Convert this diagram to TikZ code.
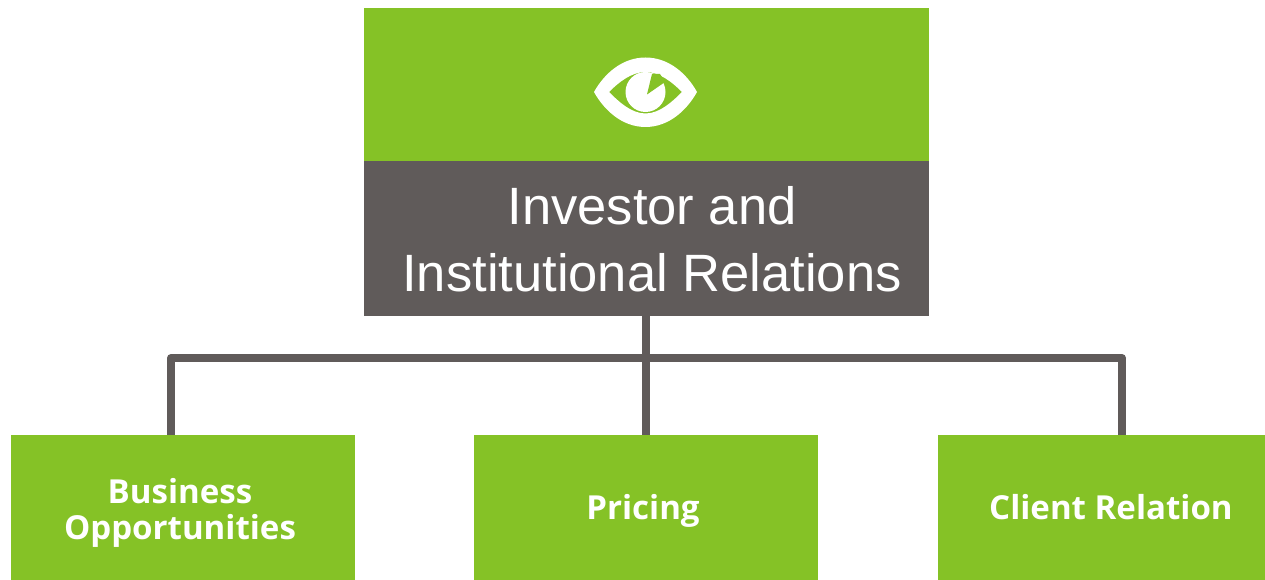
\documentclass[tikz,border=0pt]{standalone}
\usepackage{fontspec}
\setmainfont{Liberation Sans}
\newfontfamily\boxfont{Open Sans}[Scale=1]
\definecolor{leaf}{HTML}{85C226}
\definecolor{slate}{HTML}{605B5A}
\tikzset{
  px/.style={x=0.75pt,y=-0.75pt},
  blockbox/.style={fill=#1,draw=none,inner sep=0pt,anchor=north west},
  leafbox/.style={blockbox=leaf},
  leaflabel/.style={text=white,align=center,font=\boxfont\bfseries\fontsize{24.8}{27}\selectfont},
  wire/.style={draw=slate,line width=6pt,line join=round,line cap=round},
  stem/.style={draw=slate,line width=6pt},
  title/.style={text=white,font=\fontsize{39.4}{51}\selectfont,align=center}
}
\begin{document}
\begin{tikzpicture}[px]
\useasboundingbox (0,0) rectangle (1265,580);
\fill[white] (0,0) rectangle (1265,580);
\coordinate (hubL) at (171,358);
\coordinate (hubM) at (646,358);
\coordinate (hubR) at (1122,358);
\node[blockbox=leaf,minimum width=423.75pt,minimum height=114.75pt] (head) at (364,8) {};
\node[blockbox=slate,minimum width=423.75pt,minimum height=116.25pt] (band) at (364,161) {};
\node[leafbox,minimum width=258pt,minimum height=108.75pt] (biz) at (11,435) {};
\node[leafbox,minimum width=258pt,minimum height=108.75pt] (price) at (474,435) {};
\node[leafbox,minimum width=245.25pt,minimum height=108.75pt] (client) at (938,435) {};
\node[title] (titletext) at (652,239) {Investor and\\[-0.5pt]Institutional Relations};
\node[leaflabel] (biztext) at (180,513) {Business\\Opportunities};
\node[leaflabel] (pricetext) at (643,511) {Pricing};
\node[leaflabel] (clienttext) at (1111,507) {Client Relation};
\draw[stem,shorten <=-2pt] (band.south -| hubM) -- (price.north -| hubM);
\draw[wire] (hubL) -- (hubR);
\draw[stem] (hubL) -- (biz.north -| hubL);
\draw[stem] (hubR) -- (client.north -| hubR);
% eye icon
\fill[white,even odd rule]
  (594,92) .. controls (604,74) and (622,57.5) .. (645.5,57.5) .. controls (669,57.5) and (687,74) .. (697,92)
  .. controls (687,110) and (669,127) .. (645.5,127) .. controls (622,127) and (604,110) .. (594,92) -- cycle
  (609,92) .. controls (618,83) and (631,72) .. (645.5,72) .. controls (660,72) and (673,83) .. (682,92)
  .. controls (673,101) and (660,113.5) .. (645.5,113.5) .. controls (631,113.5) and (618,101) .. (609,92) -- cycle;
\fill[white] (645.5,92) circle [radius=20];
\fill[leaf] (647,94.5) -- (652,74) -- (660,74) -- (665,82) -- cycle;
\end{tikzpicture}
\end{document}
